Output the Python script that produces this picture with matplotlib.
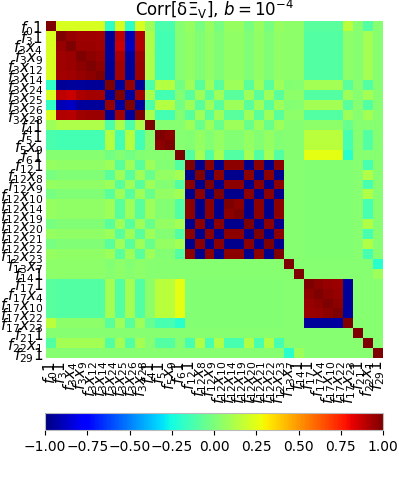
import numpy as np
import matplotlib
matplotlib.use("Agg")
import matplotlib.pyplot as plt

# parameter names, top to bottom / left to right
labels = [
    r"$f_{0}1$", r"$f_{3}1$", r"$f_{3}x_{4}$", r"$f_{3}x_{9}$", r"$f_{3}x_{12}$",
    r"$f_{3}x_{14}$", r"$f_{3}x_{24}$", r"$f_{3}x_{25}$", r"$f_{3}x_{26}$", r"$f_{3}x_{28}$",
    r"$f_{4}1$", r"$f_{5}1$", r"$f_{5}x_{9}$", r"$f_{6}1$", r"$f_{12}1$",
    r"$f_{12}x_{8}$", r"$f_{12}x_{9}$", r"$f_{12}x_{10}$", r"$f_{12}x_{14}$", r"$f_{12}x_{19}$",
    r"$f_{12}x_{20}$", r"$f_{12}x_{21}$", r"$f_{12}x_{22}$", r"$f_{12}x_{23}$", r"$f_{13}x_{7}$",
    r"$f_{14}1$", r"$f_{17}1$", r"$f_{17}x_{4}$", r"$f_{17}x_{10}$", r"$f_{17}x_{22}$",
    r"$f_{17}x_{23}$", r"$f_{21}1$", r"$f_{22}x_{1}$", r"$f_{29}1$",
]

# lower triangle of the correlation matrix, in hundredths
lower = [
    [100],
    [22, 100],
    [22, 96, 100],
    [22, 94, 95, 100],
    [22, 94, 95, 97, 100],
    [22, 93, 94, 96, 97, 100],
    [-18, -96, -95, -95, -96, -96, 100],
    [22, 89, 87, 92, 93, 93, -95, 100],
    [-18, -90, -88, -94, -95, -95, 96, -94, 100],
    [22, 91, 90, 94, 95, 95, -96, 93, -95, 100],
    [8, 12, 12, 12, 12, 12, -11, 11, -11, 11, 100],
    [-12, -14, -14, -14, -14, -14, 14, -14, 14, -14, 3, 100],
    [-12, -14, -14, -14, -14, -14, 14, -14, 14, -14, 3, 97, 100],
    [3, 3, 3, 3, 3, 3, -2, 2, -2, 2, 3, 3, 3, 100],
    [7, 5, 5, 5, 5, 5, 8, -8, 8, -8, 8, 2, 2, -10, 100],
    [-1, 1, 1, 1, 1, 1, -8, 8, -8, 8, -4, 6, 6, 10, -97, 100],
    [7, 5, 5, 5, 5, 5, 8, -8, 8, -8, 8, 2, 2, -10, 97, -97, 100],
    [-1, 1, 1, 1, 1, 1, -8, 8, -8, 8, -4, 6, 6, 10, -97, 97, -97, 100],
    [7, 5, 5, 5, 5, 5, 8, -8, 8, -8, 8, 2, 2, -10, 97, -97, 97, -97, 100],
    [7, 5, 5, 5, 5, 5, 8, -8, 8, -8, 8, 2, 2, -10, 97, -97, 97, -97, 97, 100],
    [-1, 1, 1, 1, 1, 1, -8, 8, -8, 8, -4, 6, 6, 10, -97, 97, -97, 97, -97, -97, 100],
    [7, 5, 5, 5, 5, 5, 8, -8, 8, -8, 8, 2, 2, -10, 97, -97, 97, -97, 97, 97, -97, 100],
    [-1, 1, 1, 1, 1, 1, -8, 8, -8, 8, -4, 6, 6, 10, -97, 97, -97, 97, -97, -97, 97, -97, 100],
    [7, 5, 5, 5, 5, 5, 8, -8, 8, -8, 8, 2, 2, -10, 97, -97, 97, -97, 97, 97, -97, 97, -97, 100],
    [4, 4, 4, 4, 4, 4, 2, 4, 2, 4, 3, 3, 3, 3, 3, 3, 3, 3, 3, 3, 3, 3, 3, 3, 100],
    [4, 4, 4, 4, 4, 4, 3, 4, 3, 4, 3, 3, 3, 3, 3, 3, 3, 3, 3, 3, 3, 3, 3, 3, 3, 100],
    [-8, -10, -10, -10, -10, -10, 10, -10, 10, -10, 4, 15, 15, 25, 2, 2, 2, 2, 2, 2, 2, 2, 2, 2, 3, 3, 100],
    [-8, -10, -10, -10, -10, -10, 10, -10, 10, -10, 4, 15, 15, 25, 2, 2, 2, 2, 2, 2, 2, 2, 2, 2, 3, 3, 97, 100],
    [-8, -10, -10, -10, -10, -10, 10, -10, 10, -10, 4, 15, 15, 25, 2, 2, 2, 2, 2, 2, 2, 2, 2, 2, 3, 3, 96, 97, 100],
    [-8, -10, -10, -10, -10, -10, 10, -10, 10, -10, 4, 15, 15, 25, 2, 2, 2, 2, 2, 2, 2, 2, 2, 2, 3, 3, 95, 96, 97, 100],
    [15, 4, 4, 4, 4, 4, -8, 8, -8, 8, -5, -13, -13, -20, 2, 2, 2, 2, 2, 2, 2, 2, 2, 2, 3, 3, -95, -95, -95, -94, 100],
    [3, 3, 3, 3, 3, 3, 3, 3, 3, 3, 3, 3, 3, 3, 3, 3, 3, 3, 3, 3, 3, 3, 3, 3, 3, 3, 3, 3, 3, 3, 3, 100],
    [-10, 10, 10, 10, 10, 10, -10, 10, -10, 10, 3, -10, -10, 3, -13, 13, -13, 13, -13, -13, 13, -13, 13, -13, 3, 3, 3, 3, 3, 3, 3, 3, 100],
    [3, 3, 3, 3, 3, 3, 3, 3, 3, 3, 3, 3, 3, 3, 3, 3, 3, 3, 3, 3, 3, 3, 3, 3, -20, 8, 3, 3, 3, 3, 3, 3, 3, 100],
]

n = len(labels)
corr = np.zeros((n, n))
for i, row in enumerate(lower):
    corr[i, : len(row)] = row
corr = corr + corr.T - np.diag(np.diag(corr))
corr = corr / 100.0

cbar_ticks = [-1.0, -0.75, -0.5, -0.25, 0.0, 0.25, 0.5, 0.75, 1.0]

fig = plt.figure(figsize=(3.99, 4.83), dpi=100)
ax = fig.add_axes([46 / 399, 1 - 358 / 483, 337 / 399, 337 / 483])
im = ax.imshow(corr, cmap="jet", vmin=-1, vmax=1, aspect="auto", interpolation="nearest")

ax.set_xticks(np.arange(n))
ax.set_yticks(np.arange(n))
ax.set_xticklabels(labels, rotation=90, fontsize=11)
ax.set_yticklabels(labels, fontsize=11)
ax.tick_params(length=0, pad=2)
for s in ax.spines.values():
    s.set_visible(False)
ax.set_title(r"Corr[δΞ$_{\rm V}$], $b = 10^{-4}$", fontsize=12, pad=-1.2)

cax = fig.add_axes([45 / 399, 1 - 430 / 483, 338 / 399, 17 / 483])
cb = fig.colorbar(im, cax=cax, orientation="horizontal", ticks=cbar_ticks)
cb.ax.set_xticklabels([f"{t:.2f}".replace("-", "\u2212") for t in cbar_ticks], fontsize=10)
cb.outline.set_edgecolor("#bbbbbb")
cb.outline.set_linewidth(0.8)

plt.savefig("out.png", dpi=100)
